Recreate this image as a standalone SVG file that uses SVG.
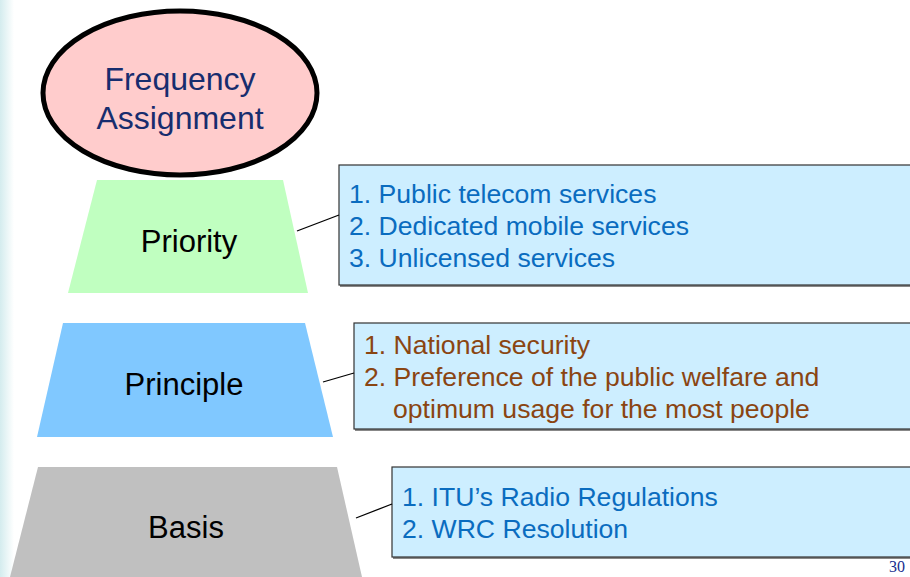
<svg xmlns="http://www.w3.org/2000/svg" width="910" height="577" viewBox="0 0 910 577">
  <defs>
    <linearGradient id="edge" x1="0" y1="0" x2="1" y2="0">
      <stop offset="0" stop-color="#d4ecee"/>
      <stop offset="1" stop-color="#ffffff"/>
    </linearGradient>
  </defs>
  <style>
    .title{font-family:"Liberation Sans",Arial,sans-serif;font-size:32px;fill:#172d6e;text-anchor:middle}
    .lvl{font-family:"Liberation Sans",Arial,sans-serif;font-size:31px;fill:#000;text-anchor:middle}
    .box{fill:#cdeeff;stroke:#333;stroke-width:1.2}
    .shadow{fill:#888}
    .item{font-family:"Liberation Sans",Arial,sans-serif;font-size:26.6px}
    .blue{fill:#0a6cbf}
    .brown{fill:#8a4512}
    .conn line{stroke:#000;stroke-width:1.3}
  </style>
  <rect x="0" y="0" width="910" height="577" fill="#fff"/>
  <rect x="0" y="0" width="14" height="577" fill="url(#edge)"/>

  <g id="basis">
    <polygon points="38,467 337,467 362,577 10,577" fill="#c0c0c0"/>
    <text class="lvl" x="186" y="538">Basis</text>
  </g>
  <g id="principle">
    <polygon points="63,323 305,323 333,437 37,437" fill="#80c8ff"/>
    <text class="lvl" x="184" y="395">Principle</text>
  </g>
  <g id="priority">
    <polygon points="97,180 283,180 308,293 68,293" fill="#c0ffc0"/>
    <text class="lvl" x="189" y="252">Priority</text>
  </g>
  <g id="frequency-assignment">
    <ellipse cx="180" cy="93" rx="137" ry="82" fill="#ffcccc" stroke="#000" stroke-width="5"/>
    <text class="title" x="180" y="90">Frequency</text>
    <text class="title" x="180" y="129">Assignment</text>
  </g>

  <g id="priority-box">
    <rect class="shadow" x="340" y="166" width="572" height="121"/>
    <rect class="box" x="339" y="165" width="572" height="120"/>
    <text class="item blue" x="349" y="203">1. Public telecom services</text>
    <text class="item blue" x="349" y="235">2. Dedicated mobile services</text>
    <text class="item blue" x="349" y="267">3. Unlicensed services</text>
  </g>
  <g id="principle-box">
    <rect class="shadow" x="355" y="324" width="557" height="107"/>
    <rect class="box" x="354" y="323" width="557" height="106"/>
    <text class="item brown" x="364" y="354">1. National security</text>
    <text class="item brown" x="364" y="386">2. Preference of the public welfare and</text>
    <text class="item brown" x="393" y="418">optimum usage for the most people</text>
  </g>
  <g id="basis-box">
    <rect class="shadow" x="393" y="468" width="519" height="91"/>
    <rect class="box" x="392" y="467" width="519" height="90"/>
    <text class="item blue" x="402" y="506">1. ITU’s Radio Regulations</text>
    <text class="item blue" x="402" y="538">2. WRC Resolution</text>
  </g>

  <g id="connectors" class="conn">
    <line x1="297" y1="231" x2="339" y2="215"/>
    <line x1="323" y1="382" x2="354" y2="373"/>
    <line x1="356" y1="518" x2="392" y2="504"/>
  </g>

  <text x="905" y="572" font-family="Liberation Serif,serif" font-size="16" fill="#172d8e" text-anchor="end">30</text>
</svg>
